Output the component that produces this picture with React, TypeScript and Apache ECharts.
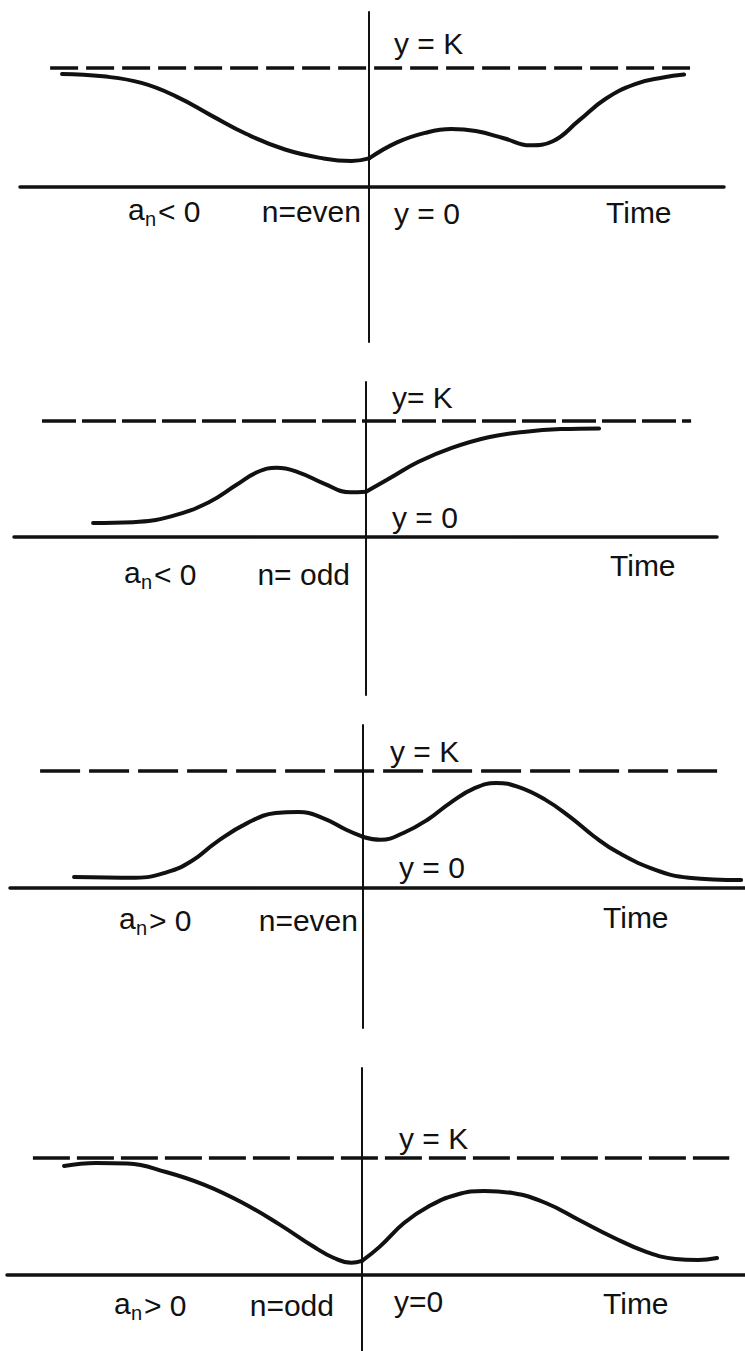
import React, { useEffect, useRef } from "react";
import * as echarts from "echarts";

// Level of the dashed asymptote (y = K) in every panel
const K_LEVEL = 1;

// Panel 1: a_n < 0, n = even
const p1CurveLeft: [number, number][] = [
  [-8.77, 0.95], [-7.6, 0.93], [-6.5, 0.875], [-5.5, 0.76], [-4.5, 0.6], [-3.5, 0.445],
  [-2.4, 0.315], [-1.3, 0.24], [-0.5, 0.218], [0, 0.24],
];
const p1CurveRight: [number, number][] = [
  [0, 0.24], [0.8, 0.375], [1.6, 0.455], [2.35, 0.487], [3.05, 0.47],
  [3.85, 0.41], [4.6, 0.35], [5.25, 0.385], [6.0, 0.56], [6.75, 0.74],
  [7.6, 0.865], [8.4, 0.92], [9.0, 0.945],
];
const p1DashRange = [-9.11, 9.17];
const p1XRange = [-9.97, 10.14];
const p1YRange = [-1.303, 1.471];

// Panel 2: a_n < 0, n = odd
const p2CurveLeft: [number, number][] = [
  [-7.8, 0.121], [-6.66, 0.128], [-5.57, 0.178], [-4.49, 0.3], [-3.7, 0.45],
  [-3.1, 0.56], [-2.55, 0.597], [-1.95, 0.56], [-1.2, 0.46], [-0.45, 0.385], [0, 0.39],
];
const p2CurveRight: [number, number][] = [
  [0, 0.39], [0.7, 0.51], [1.5, 0.648], [2.45, 0.768], [3.5, 0.86],
  [4.5, 0.905], [5.57, 0.93], [6.66, 0.936],
];
const p2DashRange = [-9.26, 9.29];
const p2XRange = [-10.06, 10.03];
const p2YRange = [-1.362, 1.336];

// Panel 3: a_n > 0, n = even
const p3CurveLeft: [number, number][] = [
  [-8.26, 0.094], [-6.5, 0.088], [-5.6, 0.135], [-4.9, 0.23], [-4.2, 0.39],
  [-3.3, 0.556], [-2.5, 0.64], [-1.85, 0.65], [-1.15, 0.598], [-0.5, 0.5], [0, 0.436],
];
const p3CurveRight: [number, number][] = [
  [0, 0.436], [0.5, 0.412], [1.15, 0.47], [1.85, 0.585], [2.5, 0.73], [3.2, 0.855],
  [3.8, 0.897], [4.45, 0.862], [5.2, 0.755], [5.9, 0.61], [6.6, 0.44],
  [7.3, 0.3], [8.35, 0.155], [9.3, 0.088], [10.8, 0.068],
];
const p3DashRange = [-9.23, 10.31];
const p3XRange = [-10.09, 10.91];
const p3YRange = [-1.197, 1.393];

// Panel 4: a_n > 0, n = odd
const p4CurveLeft: [number, number][] = [
  [-8.51, 0.932], [-7.6, 0.957], [-6.7, 0.952], [-5.6, 0.88], [-4.5, 0.77],
  [-3.4, 0.615], [-2.35, 0.43], [-1.4, 0.245], [-0.8, 0.145], [-0.3, 0.104], [0, 0.12],
];
const p4CurveRight: [number, number][] = [
  [0, 0.12], [0.5, 0.24], [1.2, 0.444], [1.9, 0.585], [2.7, 0.686], [3.5, 0.718],
  [4.3, 0.7], [5.25, 0.615], [6.2, 0.47], [7.15, 0.325], [8.1, 0.2],
  [8.95, 0.137], [9.6, 0.128], [10.14, 0.145],
];
const p4DashRange = [-9.4, 10.49];
const p4XRange = [-10.14, 10.94];
const p4YRange = [-0.65, 1.769];

// Texts
const kLabels = ["y = K", "y= K", "y = K", "y = K"];
const zeroLabels = ["y = 0", "y = 0", "y = 0", "y=0"];
const signLabels = ["<", "<", ">", ">"];
const nLabels = ["n=even", "n= odd", "n=even", "n=odd"];
const timeLabel = "Time";

const FONT = "'Liberation Sans', Arial, sans-serif";
const INK = "#111111";

const panels = [
  {
    left: p1CurveLeft, right: p1CurveRight, dash: p1DashRange, xr: p1XRange, yr: p1YRange,
    grid: { left: 20, right: 21, top: 12, bottom: 1009 }, dashType: [28, 8],
    kPos: [394, 43], zPos: [394, 213], aPos: [128, 211], nEnd: 361, tPos: [606, 212],
  },
  {
    left: p2CurveLeft, right: p2CurveRight, dash: p2DashRange, xr: p2XRange, yr: p2YRange,
    grid: { left: 14, right: 28, top: 382, bottom: 656 }, dashType: [34, 6],
    kPos: [392, 397], zPos: [392, 517], aPos: [124, 574], nEnd: 350, tPos: [610, 565],
  },
  {
    left: p3CurveLeft, right: p3CurveRight, dash: p3DashRange, xr: p3XRange, yr: p3YRange,
    grid: { left: 10, right: 0, top: 725, bottom: 323 }, dashType: [40, 9],
    kPos: [390, 751], zPos: [399, 867], aPos: [119, 920], nEnd: 358, tPos: [603, 917],
  },
  {
    left: p4CurveLeft, right: p4CurveRight, dash: p4DashRange, xr: p4XRange, yr: p4YRange,
    grid: { left: 7, right: 0, top: 1068, bottom: 0 }, dashType: [37, 7],
    kPos: [399, 1138], zPos: [394, 1301], aPos: [114, 1305], nEnd: 334, tPos: [603, 1303],
  },
];

function txt(text: string, x: number, y: number, size = 30, align = "left") {
  return {
    type: "text",
    x,
    y,
    style: { text, fill: INK, fontSize: size, fontFamily: FONT, verticalAlign: "middle", align },
  };
}

export default function App() {
  const ref = useRef<HTMLDivElement>(null);
  useEffect(() => {
    if (!ref.current) return;
    const chart = echarts.init(ref.current, undefined, { renderer: "svg" });
    const grid: any[] = [];
    const xAxis: any[] = [];
    const yAxis: any[] = [];
    const series: any[] = [];
    const graphic: any[] = [];
    panels.forEach((p, i) => {
      grid.push({ ...p.grid, containLabel: false });
      xAxis.push({
        type: "value", gridIndex: i, min: p.xr[0], max: p.xr[1],
        axisLine: { show: true, onZero: true, lineStyle: { color: INK, width: 3.5 } },
        axisTick: { show: false }, axisLabel: { show: false }, splitLine: { show: false },
      });
      yAxis.push({
        type: "value", gridIndex: i, min: p.yr[0], max: p.yr[1],
        axisLine: { show: true, onZero: true, lineStyle: { color: INK, width: 2 } },
        axisTick: { show: false }, axisLabel: { show: false }, splitLine: { show: false },
      });
      series.push({
        type: "line", xAxisIndex: i, yAxisIndex: i, showSymbol: false, silent: true,
        data: [[p.dash[0], K_LEVEL], [p.dash[1], K_LEVEL]],
        lineStyle: { color: INK, width: 3.5, type: p.dashType },
      });
      [p.left, p.right].forEach((d) => {
        series.push({
          type: "line", xAxisIndex: i, yAxisIndex: i, showSymbol: false, silent: true,
          smooth: 0.45, data: d,
          lineStyle: { color: INK, width: 4, cap: "round", join: "round" },
        });
      });
      graphic.push(txt(kLabels[i], p.kPos[0], p.kPos[1]));
      graphic.push(txt(zeroLabels[i], p.zPos[0], p.zPos[1]));
      graphic.push(txt(timeLabel, p.tPos[0], p.tPos[1]));
      const [ax, ay] = p.aPos;
      graphic.push(txt("a", ax, ay - 2));
      graphic.push(txt("n", ax + 17, ay + 8, 20));
      graphic.push(txt(signLabels[i] + " 0", ax + 30, ay));
      graphic.push(txt(nLabels[i], p.nEnd, ay, 30, "right"));
    });
    chart.setOption({
      animation: false,
      backgroundColor: "#ffffff",
      grid, xAxis, yAxis, series, graphic,
    });
    return () => chart.dispose();
  }, []);
  return (
    <div
      ref={ref}
      style={{ position: "fixed", left: 0, top: 0, width: 745, height: 1351, background: "#fff" }}
    />
  );
}
